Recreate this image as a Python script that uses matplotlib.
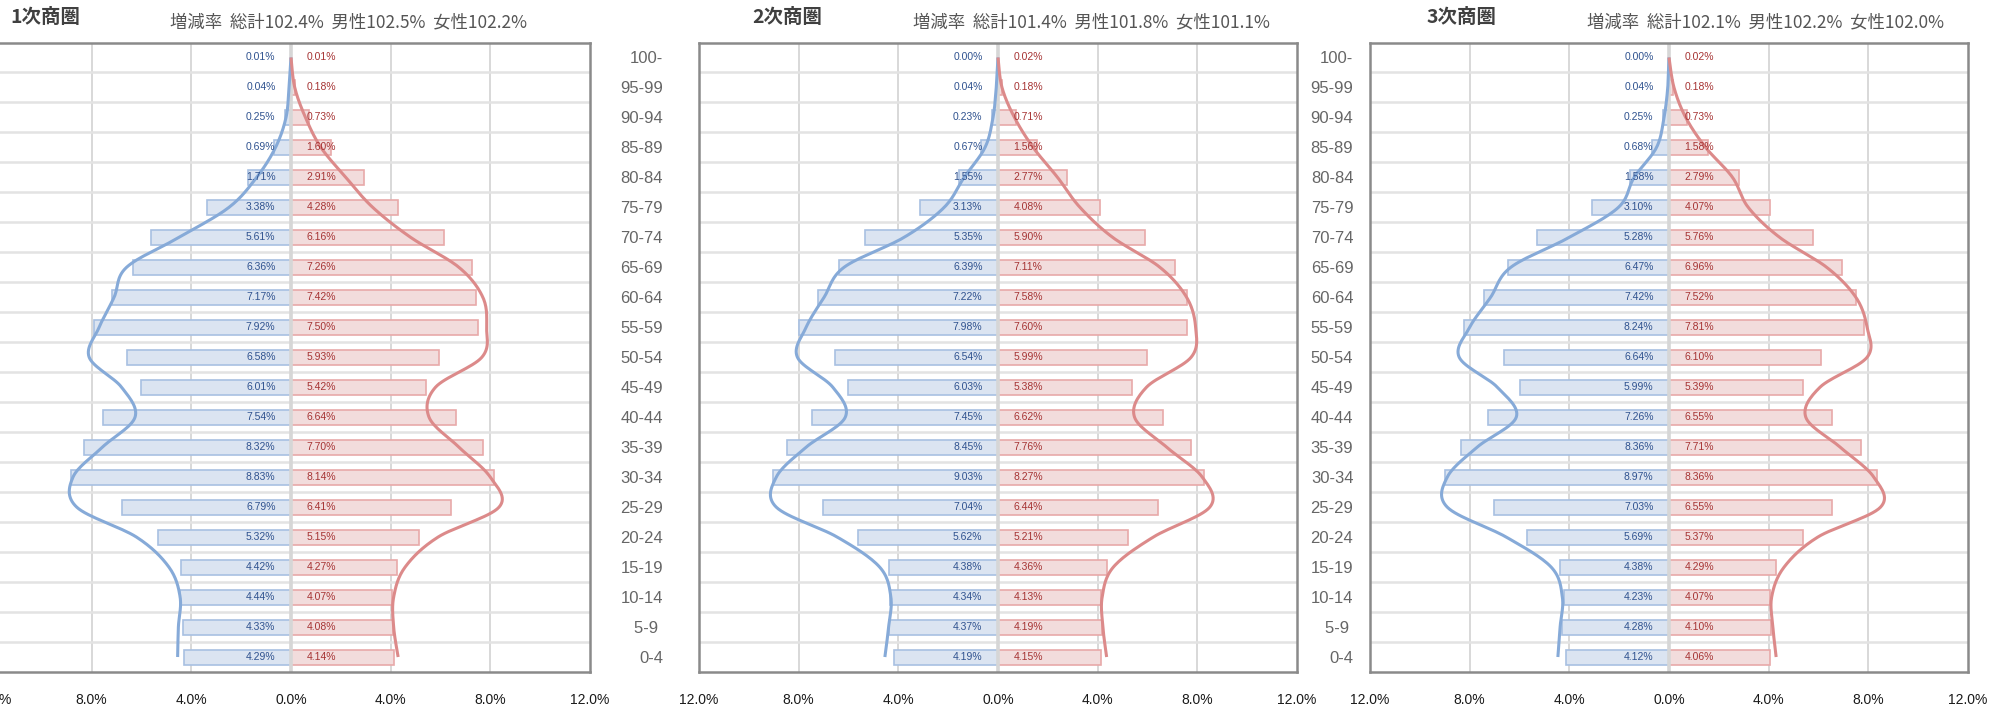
import numpy as np
import matplotlib.pyplot as plt
from matplotlib import font_manager

installed = {f.name for f in font_manager.fontManager.ttflist}
narrow = 'Liberation Sans Narrow' if 'Liberation Sans Narrow' in installed else 'Liberation Sans'
plt.rcParams['font.family'] = [narrow, 'Noto Sans CJK JP', 'DejaVu Sans']

ages = ['100-', '95-99', '90-94', '85-89', '80-84', '75-79', '70-74', '65-69', '60-64', '55-59',
        '50-54', '45-49', '40-44', '35-39', '30-34', '25-29', '20-24', '15-19', '10-14', '5-9 ', '0-4']

# 現在 (bars), top row = 100-
male_1 = [0.01, 0.04, 0.25, 0.69, 1.71, 3.38, 5.61, 6.36, 7.17, 7.92, 6.58, 6.01, 7.54, 8.32, 8.83, 6.79, 5.32, 4.42, 4.44, 4.33, 4.29]
female_1 = [0.01, 0.18, 0.73, 1.60, 2.91, 4.28, 6.16, 7.26, 7.42, 7.50, 5.93, 5.42, 6.64, 7.70, 8.14, 6.41, 5.15, 4.27, 4.07, 4.08, 4.14]
male_2 = [0.00, 0.04, 0.23, 0.67, 1.55, 3.13, 5.35, 6.39, 7.22, 7.98, 6.54, 6.03, 7.45, 8.45, 9.03, 7.04, 5.62, 4.38, 4.34, 4.37, 4.19]
female_2 = [0.02, 0.18, 0.71, 1.56, 2.77, 4.08, 5.90, 7.11, 7.58, 7.60, 5.99, 5.38, 6.62, 7.76, 8.27, 6.44, 5.21, 4.36, 4.13, 4.19, 4.15]
male_3 = [0.00, 0.04, 0.25, 0.68, 1.58, 3.10, 5.28, 6.47, 7.42, 8.24, 6.64, 5.99, 7.26, 8.36, 8.97, 7.03, 5.69, 4.38, 4.23, 4.28, 4.12]
female_3 = [0.02, 0.18, 0.73, 1.58, 2.79, 4.07, 5.76, 6.96, 7.52, 7.81, 6.10, 5.39, 6.55, 7.71, 8.36, 6.55, 5.37, 4.29, 4.07, 4.10, 4.06]

# 前回 (smoothed lines)
male_1_prev = [0.0, 0.08, 0.2, 0.62, 1.38, 2.49, 4.49, 6.6, 7.1, 7.7, 8.1, 6.8, 6.26, 7.57, 8.75, 8.6, 6.2, 4.9, 4.45, 4.52, 4.55]
female_1_prev = [0.0, 0.15, 0.58, 1.2, 2.2, 3.28, 4.8, 6.74, 7.7, 7.85, 7.66, 5.8, 5.54, 6.74, 8.0, 8.35, 5.9, 4.58, 4.12, 4.12, 4.3]
male_2_prev = [0.0, 0.07, 0.2, 0.52, 1.36, 2.16, 3.77, 6.18, 6.98, 7.7, 8.05, 6.63, 6.13, 7.7, 8.9, 8.9, 6.45, 4.75, 4.3, 4.39, 4.54]
female_2_prev = [0.0, 0.16, 0.66, 1.41, 2.39, 3.29, 4.6, 6.5, 7.57, 7.93, 7.75, 5.96, 5.48, 6.77, 8.2, 8.5, 6.23, 4.63, 4.18, 4.21, 4.36]
male_3_prev = [0.0, 0.05, 0.2, 0.5, 1.4, 2.03, 4.0, 6.35, 7.16, 8.0, 8.42, 6.89, 6.13, 7.7, 8.9, 8.9, 6.53, 4.73, 4.28, 4.37, 4.46]
female_3_prev = [0.0, 0.2, 0.67, 1.47, 2.55, 3.18, 4.44, 6.33, 7.5, 7.95, 7.95, 6.06, 5.49, 6.87, 8.22, 8.49, 5.97, 4.62, 4.12, 4.17, 4.3]

titles = ['1次商圏', '2次商圏', '3次商圏']
rates = ['増減率  総計102.4%  男性102.5%  女性102.2%',
         '増減率  総計101.4%  男性101.8%  女性101.1%',
         '増減率  総計102.1%  男性102.2%  女性102.0%']
xticks = [-12, -8, -4, 0, 4, 8, 12]

W, H = 2005, 708
panels = [
    dict(left=-8, male=male_1, female=female_1, mprev=male_1_prev, fprev=female_1_prev,
         title_x=10, rate_x=170, ypad=26, ylabels=False),
    dict(left=699, male=male_2, female=female_2, mprev=male_2_prev, fprev=female_2_prev,
         title_x=752, rate_x=913, ypad=26, ylabels=True),
    dict(left=1370, male=male_3, female=female_3, mprev=male_3_prev, fprev=female_3_prev,
         title_x=1427, rate_x=1587, ypad=12, ylabels=True),
]


def catmull(xs, ys, n=16):
    p = np.column_stack([xs, ys])
    p = np.vstack([p[0], p, p[-1]])
    out = []
    for i in range(1, len(p) - 2):
        p0, p1, p2, p3 = p[i - 1], p[i], p[i + 1], p[i + 2]
        t = np.linspace(0, 1, n, endpoint=False)[:, None]
        out.append(0.5 * (2 * p1 + (-p0 + p2) * t + (2 * p0 - 5 * p1 + 4 * p2 - p3) * t ** 2
                          + (-p0 + 3 * p1 - 3 * p2 + p3) * t ** 3))
    out.append(p[-2][None, :])
    out = np.vstack(out)
    return out[:, 0], out[:, 1]


fig = plt.figure(figsize=(W / 100, H / 100), dpi=100)
top, bottom, width = 42.5, 672, 598
y = np.arange(len(ages))[::-1]

for k, pn in enumerate(panels):
    ax = fig.add_axes([pn['left'] / W, 1 - bottom / H, width / W, (bottom - top) / H])
    m = np.array(pn['male'])
    f = np.array(pn['female'])

    for gx in [-8, -4, 4, 8]:
        ax.axvline(gx, color='#d2d2d2', lw=1.2, zorder=0)
    ax.hlines(np.arange(0.5, 20.5, 1), -12, 12, color='#e3e3e3', lw=1.8, zorder=0)

    ax.barh(y, -m, height=0.5, color='#dbe4f1', edgecolor='#a8c0e2', lw=1.2, zorder=2)
    ax.barh(y, f, height=0.5, color='#f2dcdc', edgecolor='#e8a9a9', lw=1.2, zorder=2)
    ax.axvline(0, color='#d6d6d6', lw=2.6, zorder=2.5)

    mx, my = catmull(-np.array(pn['mprev']), y.astype(float))
    fx, fy = catmull(np.array(pn['fprev']), y.astype(float))
    ax.plot(mx, my, color='#86aad8', lw=2.2, zorder=3, solid_capstyle='butt')
    ax.plot(fx, fy, color='#dc8a8a', lw=2.2, zorder=3, solid_capstyle='butt')

    for yi, mv, fv in zip(y, m, f):
        ax.text(-0.62, yi, f'{mv:.2f}%', ha='right', va='center', fontsize=7.5, color='#2f528f', zorder=4)
        ax.text(0.62, yi, f'{fv:.2f}%', ha='left', va='center', fontsize=7.5, color='#a63333', zorder=4)

    ax.set_xlim(-12, 12)
    ax.set_ylim(-0.5, 20.5)
    ax.set_xticks(xticks)
    ax.set_xticklabels([f'{abs(v):.1f}%' for v in xticks], fontsize=10, color='#1a1a1a')
    ax.set_yticks(y)
    if pn['ylabels']:
        ax.set_yticklabels(ages, fontsize=12, color='#666666')
    else:
        ax.set_yticklabels([])
    ax.tick_params(axis='x', length=0, pad=15)
    ax.tick_params(axis='y', length=0, pad=pn['ypad'])
    for s in ax.spines.values():
        s.set_color('#8a8a8a')
        s.set_linewidth(1.8)

    fig.text(pn['title_x'] / W, 1 - 17 / H, titles[k], fontsize=14, fontweight='bold',
             color='#404040', ha='left', va='center', family=['Noto Sans CJK JP', 'DejaVu Sans'])
    fig.text(pn['rate_x'] / W, 1 - 22 / H, rates[k], fontsize=12.5, color='#555555',
             ha='left', va='center', family=['Noto Sans CJK JP', 'DejaVu Sans'])

fig.savefig('out.png', dpi=100)
